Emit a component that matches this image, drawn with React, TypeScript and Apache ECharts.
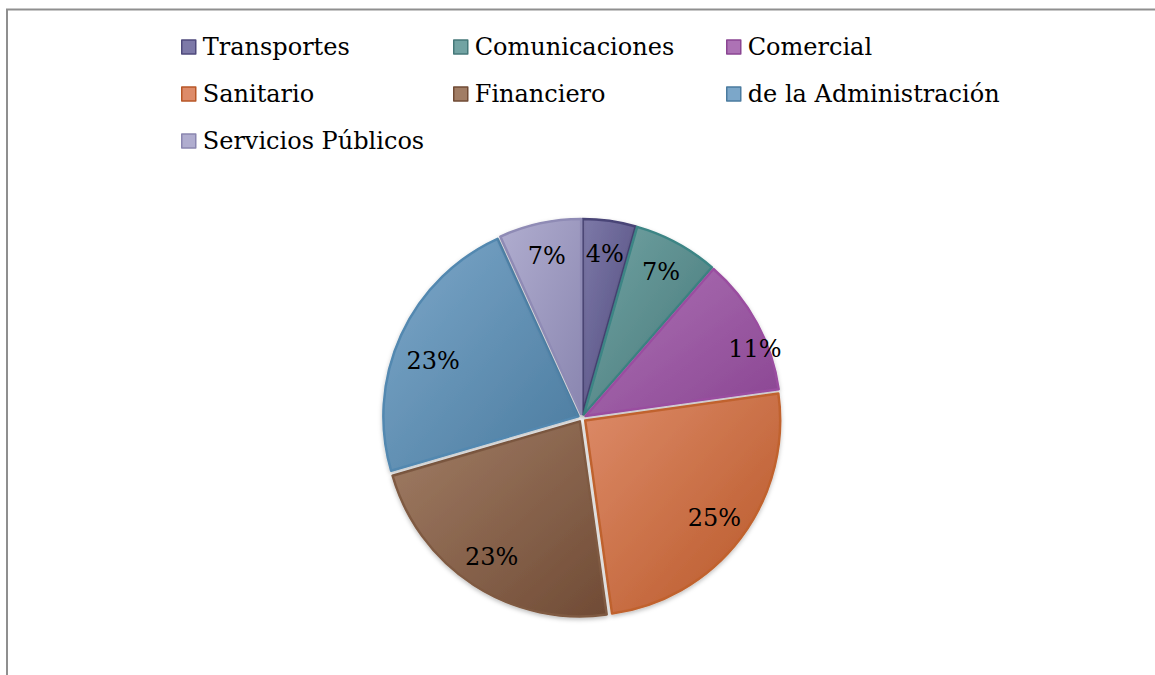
import React, { useEffect, useRef } from "react";
import * as echarts from "echarts";

const categories = [
  "Transportes",
  "Comunicaciones",
  "Comercial",
  "Sanitario",
  "Financiero",
  "de la Administración",
  "Servicios Públicos",
];
const values = [4.4, 7.0, 11.4, 25.0, 22.7, 22.7, 6.8];
const lightColors = ["#7d79a8", "#72a3a3", "#ad72b5", "#dd8b69", "#a17d65", "#7ca7c9", "#b0adcf"];
const darkColors = ["#4f4a7c", "#457879", "#8a4592", "#b85727", "#704b35", "#4a7b9f", "#8a86b0"];
const borderColors = ["#4a4577", "#3c8585", "#9a4ea0", "#c0622e", "#7f5a42", "#5288b0", "#8f8bb5"];
const legendColumns = [
  ["Transportes", "Sanitario", "Servicios Públicos"],
  ["Comunicaciones", "Financiero"],
  ["Comercial", "de la Administración"],
];
const legendLefts = [181, 453, 726];
const labelOffsets: Record<string, number[]> = {
  Comercial: [27, 10],
  "de la Administración": [2, 12],
};

const FONT = "'DejaVu Serif', 'Liberation Serif', serif";

export default function App() {
  const ref = useRef<HTMLDivElement>(null);
  useEffect(() => {
    if (!ref.current) return;
    const chart = echarts.init(ref.current, undefined, { renderer: "svg" });
    const style = (i: number) => ({
      color: new echarts.graphic.LinearGradient(0, 0, 1, 1, [
        { offset: 0, color: lightColors[i] },
        { offset: 1, color: darkColors[i] },
      ]),
      borderColor: borderColors[i],
      borderWidth: 2.5,
      shadowBlur: 4,
      shadowColor: "rgba(0,0,0,0.25)",
      shadowOffsetY: 2,
    });
    const mainData = categories.map((name, i) => ({
      name,
      value: values[i],
      selected: true,
      itemStyle: style(i),
      select: { itemStyle: style(i) },
    }));
    const labelData = categories.map((name, i) => ({
      name,
      value: values[i],
      label: labelOffsets[name] ? { offset: labelOffsets[name] } : {},
    }));
    const legends = legendColumns.map((col, c) => ({
      orient: "vertical",
      left: legendLefts[c],
      top: 35,
      padding: 0,
      itemWidth: 14,
      itemHeight: 14,
      itemGap: 23,
      icon: "rect",
      selectedMode: false,
      data: col.map((n) => {
        const i = categories.indexOf(n);
        return {
          name: n,
          itemStyle: { color: lightColors[i], borderColor: darkColors[i], borderWidth: 1.5 },
        };
      }),
      textStyle: { fontFamily: FONT, fontSize: 24, color: "#000", lineHeight: 24, padding: [0, 0, 0, 2] },
    }));
    chart.setOption({
      animation: false,
      backgroundColor: "#fff",
      legend: legends,
      graphic: [
        {
          type: "rect",
          shape: { x: 7, y: 9.5, width: 1300, height: 800 },
          style: { fill: "none", stroke: "#8f8f8f", lineWidth: 2 },
          silent: true,
        },
      ],
      series: [
        {
          type: "pie",
          center: [582, 418],
          radius: [0, 195],
          startAngle: 90,
          clockwise: true,
          selectedMode: "multiple",
          selectedOffset: 4,
          label: { show: false },
          labelLine: { show: false },
          emphasis: { disabled: true },
          data: mainData,
        },
        {
          type: "pie",
          center: [582, 418],
          radius: [130, 196],
          startAngle: 90,
          clockwise: true,
          silent: true,
          z: 5,
          itemStyle: { color: "rgba(0,0,0,0)", borderWidth: 0 },
          label: {
            show: true,
            position: "inside",
            fontFamily: FONT,
            fontSize: 24,
            color: "#000",
            formatter: (p: any) => Math.round(p.percent) + "%",
          },
          labelLine: { show: false },
          emphasis: { disabled: true },
          data: labelData,
        },
      ],
    });
    return () => chart.dispose();
  }, []);
  return (
    <div
      ref={ref}
      style={{ position: "fixed", left: 0, top: 0, width: 1155, height: 675 }}
    />
  );
}
